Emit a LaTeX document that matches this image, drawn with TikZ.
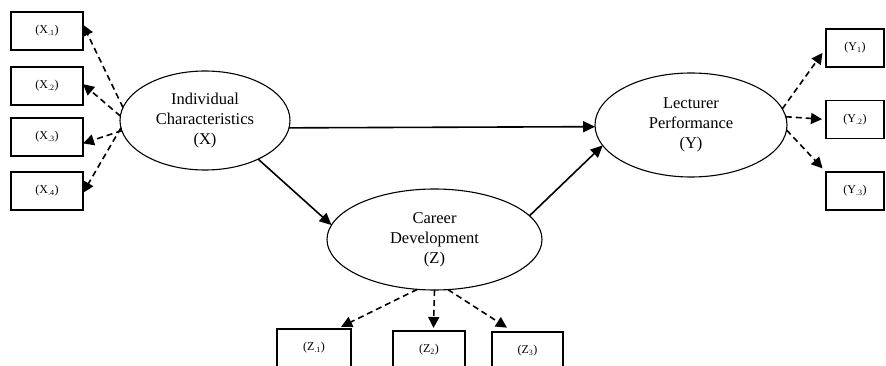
\documentclass[tikz,border=0pt]{standalone}
\usepackage{fontspec}
\setmainfont{Liberation Serif}
\usetikzlibrary{shapes.geometric, arrows.meta}
\tikzset{
  dasharrow/.style={
    line width=1.6pt,
    dash pattern=on 6pt off 4pt,
    -{Triangle[length=11pt, width=11pt]}
  },
  solidarrow/.style={
    line width=1.6pt,
    -{Triangle[length=12pt, width=11pt]}
  }
}
\begin{document}
\begin{tikzpicture}[x=1pt, y=-1pt, every node/.style={draw, inner sep=0pt, outer sep=0pt},
  latent/.style={ellipse, line width=1.1pt, align=center, font=\fontsize{16.5}{20}\selectfont},
  item/.style={rectangle, line width=1.5pt, minimum height=38pt, font=\fontsize{12}{14}\selectfont}]
\useasboundingbox (0,0) rectangle (886,366);
\newcommand\XCol{47}
\newcommand\YCol{855}
\node[item, minimum width=72pt] (x1) at (\XCol,31) {(X\textsubscript{.1})};
\node[item, minimum width=72pt] (x2) at (\XCol,86) {(X\textsubscript{.2})};
\node[item, minimum width=72pt] (x3) at (\XCol,137) {(X\textsubscript{.3})};
\node[item, minimum width=72pt] (x4) at (\XCol,191) {(X\textsubscript{.4})};
\node[latent, minimum width=170pt, minimum height=99pt] (ix) at (205,120.5) {Individual\\Characteristics\\(X)};
\node[latent, minimum width=192pt, minimum height=104pt] (yc) at (691,125) {Lecturer\\Performance\\(Y)};
\node[latent, minimum width=215pt, minimum height=101pt] (zc) at (434.5,239.5) {Career\\Development\\(Z)};
\node[item, minimum width=58pt] (y1) at (\YCol,48) {(Y\textsubscript{1})};
\node[item, minimum width=58pt] (y2) at (\YCol,119.5) {(Y\textsubscript{.2})};
\node[item, minimum width=58pt] (y3) at (\YCol,191) {(Y\textsubscript{.3})};
\node[item, minimum width=74pt] (z1) at (314,348) {(Z\textsubscript{.1})};
\node[item, minimum width=72pt] (z2) at (429,350) {(Z\textsubscript{2})};
\node[item, minimum width=71pt] (z3) at (527.5,351) {(Z\textsubscript{3})};

\path (ix.-5)  edge[solidarrow] (yc.181)
      (ix.-36) edge[solidarrow] (zc.172)
      (zc.14)  edge[solidarrow] (yc.193);

\path (ix.171) edge[dasharrow] (x1.10)
      (ix.177) edge[dasharrow] (x2.3)
      (ix.187) edge[dasharrow] (x3.-10)
      (ix.185) edge[dasharrow] (x4.-3)
      (yc.10)  edge[dasharrow, shorten >=6pt] (y1.west)
      (yc.5)   edge[dasharrow, shorten >=4pt] (y2.west)
      (yc.-3)  edge[dasharrow, shorten >=5pt] (y3.north west)
      (zc.-109) edge[dasharrow, shorten >=5pt] (z1.40)
      (zc.-90) edge[dasharrow, shorten >=3pt] (z2.77)
      (zc.-75) edge[dasharrow, shorten >=8pt] (z3.126);
\end{tikzpicture}
\end{document}
